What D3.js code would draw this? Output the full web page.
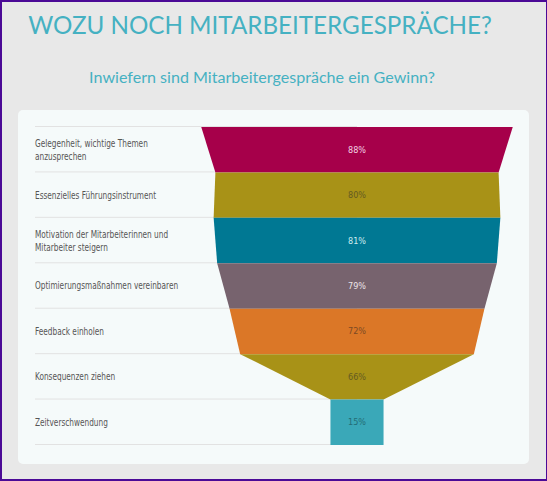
<!DOCTYPE html>
<html>
<head>
<meta charset="utf-8">
<script src="https://cdn.jsdelivr.net/npm/d3@7"></script>
<style>
  html, body { margin: 0; padding: 0; background: #e8e8e8; }
  #frame { width: 547px; height: 481px; box-sizing: border-box; border: 2px solid #4b0a96; border-right-width: 1px; overflow: hidden; }
  svg { display: block; }
</style>
</head>
<body>
<div id="frame"></div>
<script>
// data
const categories = [
  ["Gelegenheit, wichtige Themen", "anzusprechen"],
  ["Essenzielles Führungsinstrument"],
  ["Motivation der Mitarbeiterinnen und", "Mitarbeiter steigern"],
  ["Optimierungsmaßnahmen vereinbaren"],
  ["Feedback einholen"],
  ["Konsequenzen ziehen"],
  ["Zeitverschwendung"]
];
const values = [88, 80, 81, 79, 72, 66, 15];
const palette = ["#a6004a", "#a89217", "#007893", "#77636e", "#db7727", "#a89217", "#3aa8b8"];
const labelColors = ["#f2d3e2", "#655a22", "#cdebee", "#ece3e8", "#7c4a24", "#655a22", "#246d76"];

const title = "WOZU NOCH MITARBEITERGESPRÄCHE?";
const subtitle = "Inwiefern sind Mitarbeitergespräche ein Gewinn?";

const width = 544, height = 477;
const svg = d3.select("#frame").append("svg")
  .attr("width", width)
  .attr("height", height);

// fit a text to a target width by adjusting its font size
function fitText(sel, target) {
  const len = sel.node().getComputedTextLength();
  const fs = +sel.attr("font-size");
  sel.attr("font-size", (fs * target / len).toFixed(2));
}

svg.append("text")
  .attr("x", 258)
  .attr("y", 32)
  .attr("text-anchor", "middle")
  .attr("font-family", "Lato, 'Open Sans', sans-serif")
  .attr("font-size", 29)
  .attr("fill", "#45b1c2")
  .text(title)
  .call(fitText, 464);

svg.append("text")
  .attr("x", 260)
  .attr("y", 81)
  .attr("text-anchor", "middle")
  .attr("font-family", "Lato, 'Open Sans', sans-serif")
  .attr("font-size", 16)
  .attr("fill", "#45b1c2")
  .text(subtitle)
  .call(fitText, 346);

// card
svg.append("rect")
  .attr("x", 16).attr("y", 108)
  .attr("width", 511).attr("height", 354)
  .attr("rx", 5)
  .attr("fill", "#f5fafa");

const cx = 355;
const y = d3.scaleBand()
  .domain(d3.range(values.length))
  .range([125, 443])
  .padding(0);
const w = d3.scaleLinear().domain([0, 100]).range([0, 354]);

// row separators
const lineYs = d3.range(values.length).map(i => y(i)).concat([y.range()[1]]);
svg.append("g")
  .attr("stroke", "#e2e2e2")
  .attr("stroke-width", 1)
  .selectAll("line")
  .data(lineYs)
  .join("line")
  .attr("x1", 33).attr("x2", cx)
  .attr("y1", d => d - 0.5).attr("y2", d => d - 0.5);

// funnel
const rows = values.map((v, i) => ({
  i,
  top: v,
  bottom: i < values.length - 1 ? values[i + 1] : v
}));

svg.append("g")
  .selectAll("path")
  .data(rows)
  .join("path")
  .attr("fill", d => palette[d.i])
  .attr("d", d => {
    const y0 = y(d.i), y1 = y(d.i) + y.bandwidth();
    const t = w(d.top) / 2, b = w(d.bottom) / 2;
    return `M${cx - t},${y0}L${cx + t},${y0}L${cx + b},${y1}L${cx - b},${y1}Z`;
  });

// value labels
svg.append("g")
  .attr("font-family", "'DejaVu Sans Condensed', sans-serif")
  .attr("font-size", 9)
  .attr("text-anchor", "middle")
  .selectAll("text")
  .data(rows)
  .join("text")
  .attr("x", cx)
  .attr("y", d => y(d.i) + y.bandwidth() / 2 + 3)
  .attr("fill", d => labelColors[d.i])
  .text(d => d.top + "%");

// category labels (horizontally condensed to mimic the narrow face)
const cat = svg.append("g")
  .attr("transform", "translate(33,0) scale(0.82,1)")
  .attr("font-family", "'DejaVu Sans Condensed', sans-serif")
  .attr("font-size", 10)
  .attr("fill", "#555")
  .selectAll("text")
  .data(categories)
  .join("text")
  .attr("x", 0)
  .attr("y", (d, i) => y(i) + y.bandwidth() / 2 + 3.5 - (d.length - 1) * 6.5);

cat.selectAll("tspan")
  .data(d => d)
  .join("tspan")
  .attr("x", 0)
  .attr("dy", (d, j) => j === 0 ? 0 : 13)
  .text(d => d);
</script>
</body>
</html>
